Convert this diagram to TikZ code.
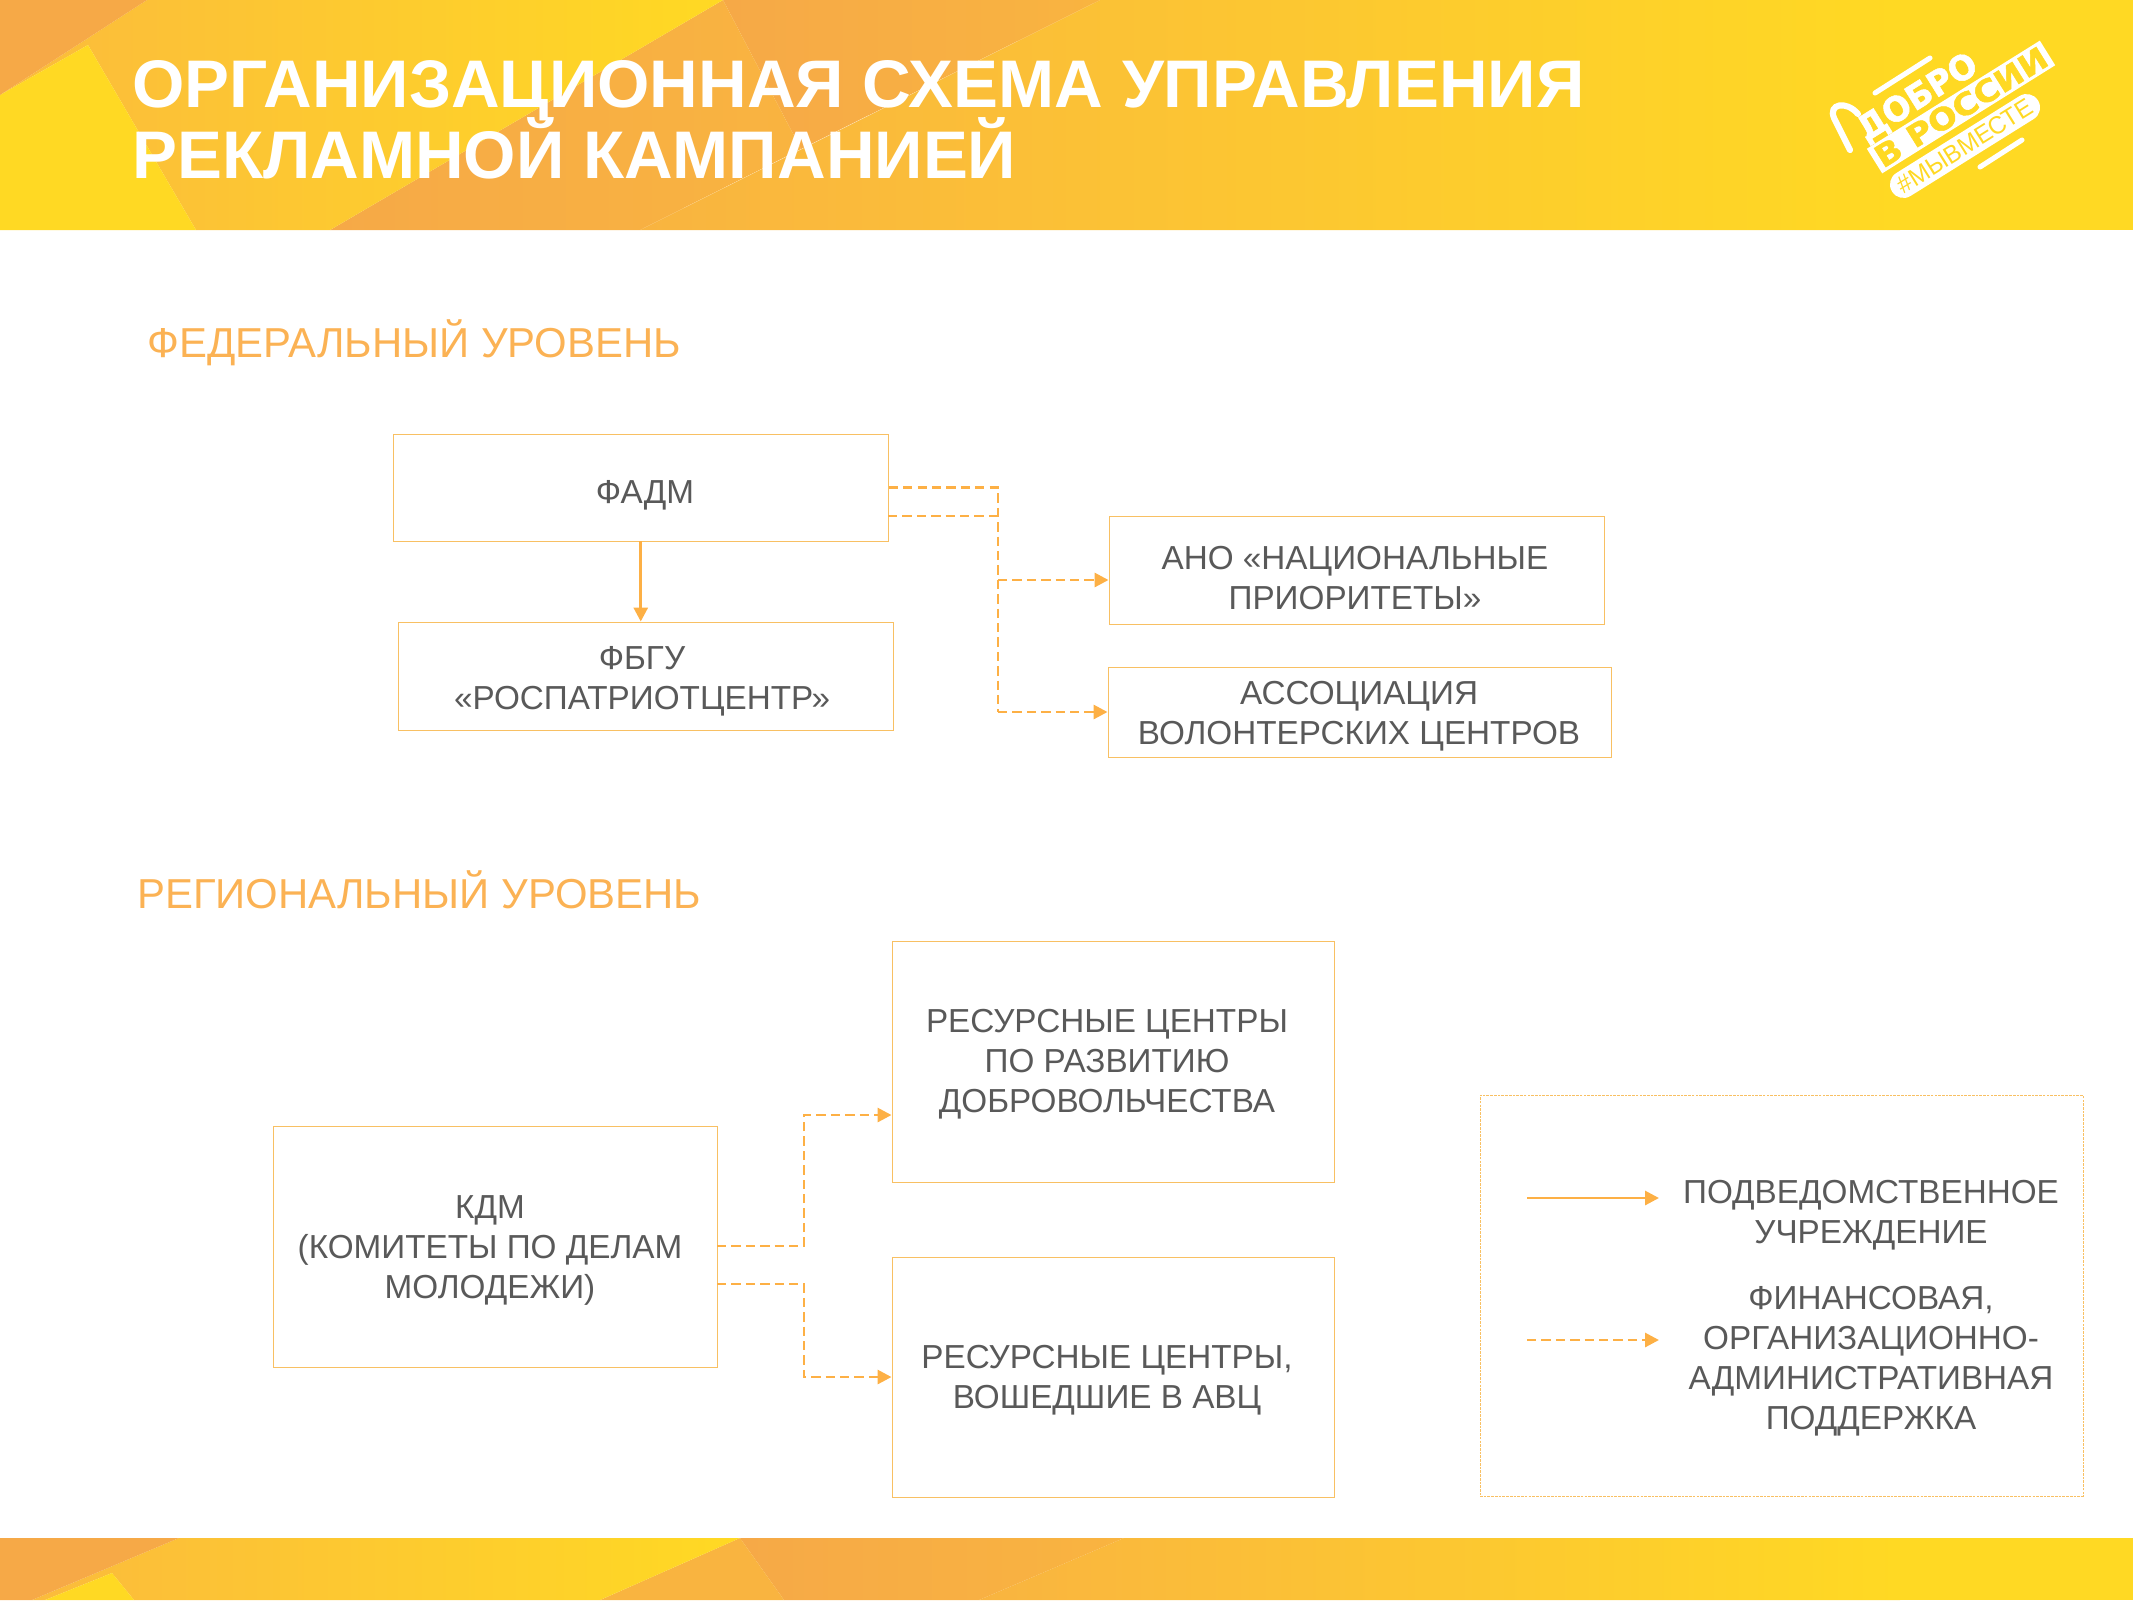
\documentclass[tikz,border=0pt]{standalone}
\usepackage{fontspec}
\usepackage{graphicx}
\setmainfont{Liberation Sans}
\newfontfamily\logofont{DejaVu Sans}[BoldFeatures={FakeBold=1.5}]
\usetikzlibrary{arrows.meta}
\definecolor{brightY}{HTML}{FFD923}
\definecolor{orangeA}{HTML}{F6A947}
\definecolor{orangeB}{HTML}{F9B440}
\definecolor{midY}{HTML}{FBBB3C}
\definecolor{lineO}{HTML}{FDB045}
\definecolor{boxO}{HTML}{F8C063}
\definecolor{headO}{HTML}{FBB254}
\definecolor{bodyG}{HTML}{595959}
\tikzset{
  sized/.style 2 args={minimum width=#1*0.75pt, minimum height=#2*0.75pt},
  boxed/.style={draw=boxO, line width=0.7pt, inner sep=0pt, fill=white},
  body/.style={text=bodyG, align=center, inner sep=0pt, font=\fontsize{24.95}{30}\selectfont},
  heading/.style={text=headO, anchor=base west, inner sep=0pt, font=\fontsize{31.4}{36}\selectfont},
  titletext/.style={text=white, anchor=base west, inner sep=0pt, font=\fontsize{50.5}{54}\selectfont\bfseries},
  solidline/.style={draw=lineO, line width=2.2pt},
  dashline/.style={draw=lineO, line width=2.2pt, dash pattern=on 7pt off 3.8pt},
  tip/.style={-{Triangle[length=10.5pt,width=10.5pt]}},
  logoshape/.style={draw=white, line width=3.8pt, line cap=round}
}
\begin{document}
\begin{tikzpicture}[x=0.75pt,y=-0.75pt]
\useasboundingbox (0,0) rectangle (2133,1600);
% header
\fill[brightY] (1900,0) rectangle (2133,230);
\path[left color=orangeB,right color=brightY] (1100,0) -- (1900,0) -- (1900,230) -- (640,230) -- cycle;
\path[left color=orangeA,right color=orangeB] (723,0) -- (1100,0) -- (801,149) -- cycle;
\path[left color=orangeA,right color=orangeB] (723,0) -- (801,149) -- (640,230) -- (330,230) -- cycle;
\path[left color=midY,right color=brightY] (147,0) -- (723,0) -- (330,230) -- (196,230) -- (88,45) -- (0,95) -- cycle;
\fill[brightY] (88,45) -- (0,95) -- (0,230) -- (196,230) -- cycle;
\fill[orangeA] (0,0) -- (147,0) -- (0,95) -- cycle;
% footer
\path[left color=orangeB,right color=brightY] (1124,1538) -- (1900,1538) -- (1900,1600) -- (979,1600) -- cycle;
\fill[brightY] (1900,1538) rectangle (2133,1600);
\path[left color=orangeA,right color=orangeB] (740,1538) -- (1124,1538) -- (979,1600) -- (784,1600) -- cycle;
\fill[orangeB] (740,1538) -- (784,1600) -- (600,1600) -- cycle;
\path[left color=midY,right color=brightY] (179,1538) -- (740,1538) -- (600,1600) -- (134,1600) -- (112,1573) -- (45,1600) -- (32,1600) -- cycle;
\fill[brightY] (112,1573) -- (45,1600) -- (134,1600) -- cycle;
\fill[orangeA] (0,1538) -- (179,1538) -- (32,1600) -- (0,1600) -- cycle;
% title
\node[titletext] (title1) at (132,107) {ОРГАНИЗАЦИОННАЯ СХЕМА УПРАВЛЕНИЯ};
\node[titletext] (title2) at (132,178) {РЕКЛАМНОЙ КАМПАНИЕЙ};
% logo
\coordinate (hook1) at (1850,150);
\coordinate (hook2) at (1834,118);
\coordinate (hook3) at (1858,114);
\coordinate (l1a) at (1875,93);
\coordinate (l1b) at (1930,58);
\coordinate (l2a) at (1980,167);
\coordinate (l2b) at (2022,140);
\draw[logoshape,line width=4.6pt] (hook1) -- (hook2) .. controls (1828,104) and (1846,100) .. (hook3);
\draw[logoshape] (l1a) -- (l1b);
\draw[logoshape] (l2a) -- (l2b);
\node[rotate=32,text=white,inner sep=0pt] (dobro) at (1918,98) {\resizebox{101pt}{19pt}{\logofont\bfseries ДОБРО}};
\node[rotate=32,fill=white,text=brightY,inner sep=0pt,sized={204}{29}] (rossii) at (1961,107) {\resizebox{148pt}{17pt}{\logofont\bfseries В РОССИИ}};
\node[rotate=32,fill=white,text=brightY,rounded corners=10pt,inner sep=0pt,sized={172}{27}] (hash) at (1965,146) {\resizebox{116pt}{13pt}{\#МЫВМЕСТЕ}};
% headings
\node[heading] (fedhead) at (147,357) {ФЕДЕРАЛЬНЫЙ УРОВЕНЬ};
\node[heading] (reghead) at (137,908) {РЕГИОНАЛЬНЫЙ УРОВЕНЬ};
% boxes
\node[boxed,sized={495}{107}] (fadm) at (640.75,487.5) {};
\node[body] (fadmtext) at (645,495) {ФАДМ};
\node[boxed,sized={495}{108}] (fbgu) at (645.75,676) {};
\node[body] (fbgutext) at (642,681) {ФБГУ\\«РОСПАТРИОТЦЕНТР»};
\node[boxed,sized={495}{108}] (ano) at (1356.5,570) {};
\node[body] (anotext) at (1355,578) {АНО «НАЦИОНАЛЬНЫЕ\\ПРИОРИТЕТЫ»};
\node[boxed,sized={503}{90}] (assoc) at (1359.5,712) {};
\node[body] (assoctext) at (1359,716) {АССОЦИАЦИЯ\\ВОЛОНТЕРСКИХ ЦЕНТРОВ};
\node[boxed,sized={444}{241}] (kdm) at (495,1246.5) {};
\node[body] (kdmtext) at (490,1250) {КДМ\\(КОМИТЕТЫ ПО ДЕЛАМ\\МОЛОДЕЖИ)};
\node[boxed,sized={442}{241}] (rc1) at (1113,1061.5) {};
\node[body] (rc1text) at (1107,1064) {РЕСУРСНЫЕ ЦЕНТРЫ\\ПО РАЗВИТИЮ\\ДОБРОВОЛЬЧЕСТВА};
\node[boxed,sized={442}{240}] (rc2) at (1113,1377) {};
\node[body] (rc2text) at (1107,1380) {РЕСУРСНЫЕ ЦЕНТРЫ,\\ВОШЕДШИЕ В АВЦ};
% legend
\node[draw=boxO,line width=0.75pt,dash pattern=on 2pt off 0.8pt,inner sep=0pt,sized={603}{401}] (legend) at (1781.5,1295.5) {};
\node[body] (legtext1) at (1871,1215) {ПОДВЕДОМСТВЕННОЕ\\УЧРЕЖДЕНИЕ};
\node[body] (legtext2) at (1871,1361) {ФИНАНСОВАЯ,\\ОРГАНИЗАЦИОННО-\\АДМИНИСТРАТИВНАЯ\\ПОДДЕРЖКА};
\coordinate (s1) at (1527,1198);
\coordinate (e1) at (1659,1198);
\coordinate (s2) at (1527,1340);
\coordinate (e2) at (1659,1340);
\draw[solidline,tip] (s1) -- (e1);
\draw[dashline,tip] (s2) -- (e2);
% connectors federal
\coordinate (fadmlow) at (888,516);
\coordinate (bustop) at (998,487.5);
\coordinate (busmid) at (998,516);
\coordinate (busano) at (998,580);
\coordinate (busassoc) at (998,712);
\draw[solidline,tip] (fadm.south) -- (fadm.south |- fbgu.north);
\draw[dashline] (fadm.east) -- (bustop) -- (busassoc);
\draw[dashline] (fadmlow) -- (busmid);
\draw[dashline,tip] (busano) -- (busano -| ano.west);
\draw[dashline,tip] (busassoc) -- (assoc.west);
% connectors regional
\coordinate (kdmup) at (717,1246);
\coordinate (kdmdown) at (717,1284);
\coordinate (upbend) at (804,1246);
\coordinate (downbend) at (804,1284);
\coordinate (uptop) at (804,1115);
\coordinate (downbot) at (804,1377);
\draw[dashline,tip] (kdmup) -- (upbend) -- (uptop) -- (uptop -| rc1.west);
\draw[dashline,tip] (kdmdown) -- (downbend) -- (downbot) -- (rc2.west);
\end{tikzpicture}
\end{document}
